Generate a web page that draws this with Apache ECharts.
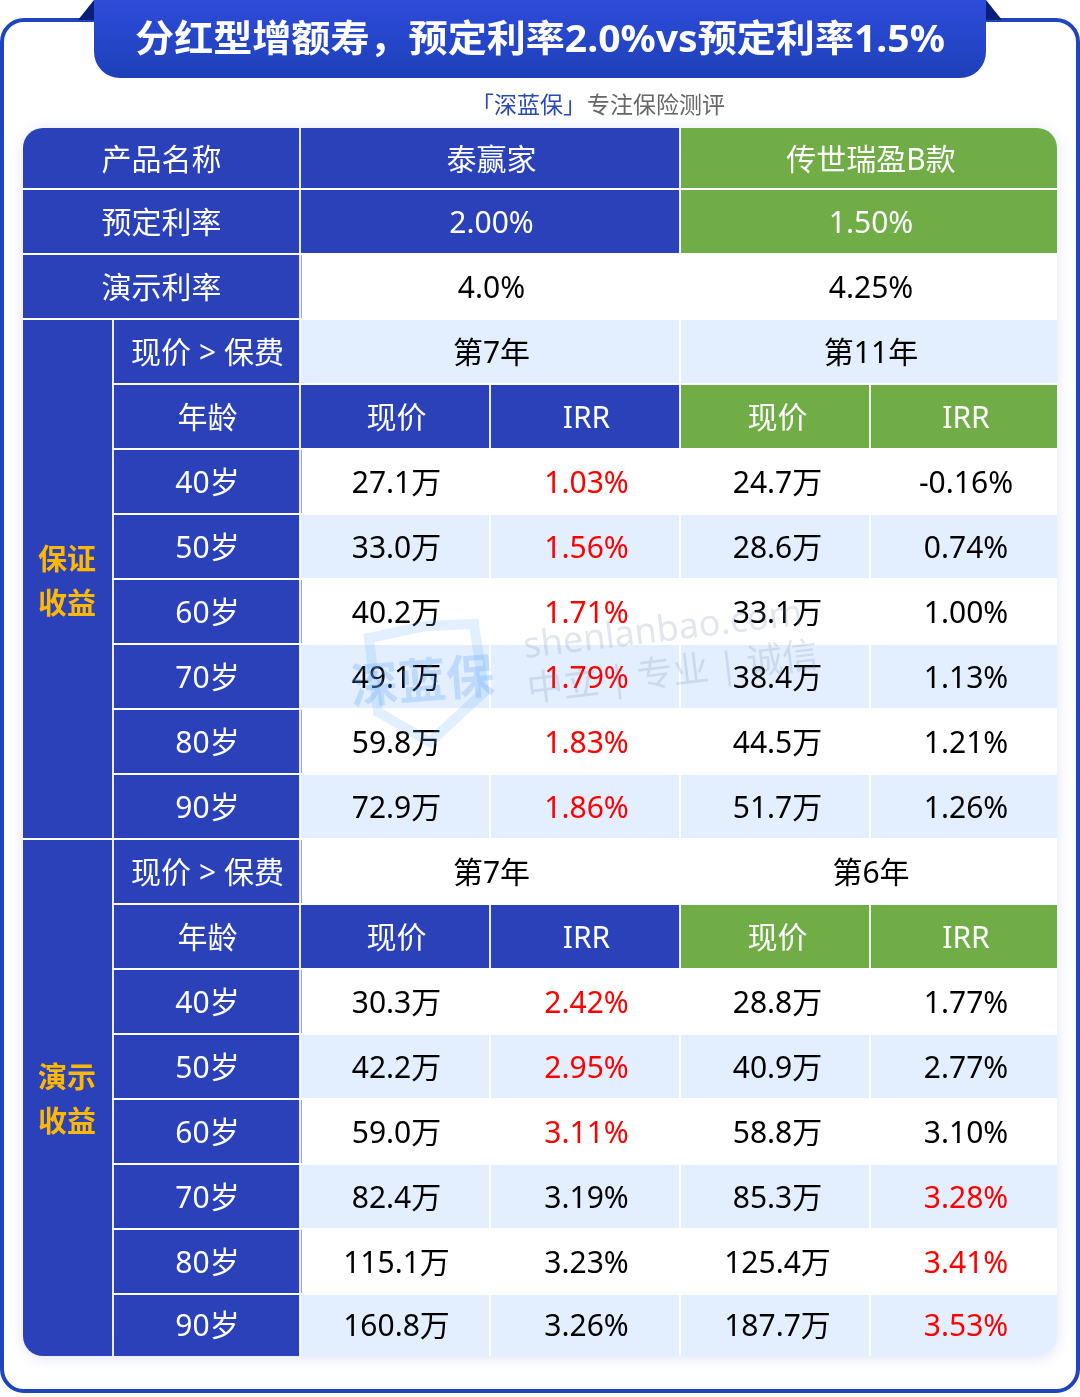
<!DOCTYPE html>
<html>
<head>
<meta charset="utf-8">
<style>
  html, body { margin: 0; padding: 0; background: #fff; }
  #main { width: 1080px; height: 1397px; }
</style>
<script src="https://cdn.jsdelivr.net/npm/echarts@6/dist/echarts.min.js"></script>
</head>
<body>
<div id="main"></div>
<script>
// ---- data ----
const titleText = '分红型增额寿，预定利率2.0%vs预定利率1.5%';
const productNames = ['泰赢家', '传世瑞盈B款'];
const presetRates = ['2.00%', '1.50%'];
const demoRates = ['4.0%', '4.25%'];
const ages = ['40岁', '50岁', '60岁', '70岁', '80岁', '90岁'];

const guaranteedYears = ['第7年', '第11年'];
const guaranteedCashA = [27.1, 33.0, 40.2, 49.1, 59.8, 72.9];
const guaranteedIrrA = [1.03, 1.56, 1.71, 1.79, 1.83, 1.86];
const guaranteedCashB = [24.7, 28.6, 33.1, 38.4, 44.5, 51.7];
const guaranteedIrrB = [-0.16, 0.74, 1.00, 1.13, 1.21, 1.26];

const demoYears = ['第7年', '第6年'];
const demoCashA = [30.3, 42.2, 59.0, 82.4, 115.1, 160.8];
const demoIrrA = [2.42, 2.95, 3.11, 3.19, 3.23, 3.26];
const demoCashB = [28.8, 40.9, 58.8, 85.3, 125.4, 187.7];
const demoIrrB = [1.77, 2.77, 3.10, 3.28, 3.41, 3.53];

// ---- table layout ----
const colEdges = [23, 113, 300, 490, 680, 870, 1057];
const rowEdges = [128, 189, 254, 319, 384, 449, 514, 579, 644, 709, 774, 839, 904, 969, 1034, 1099, 1164, 1229, 1294, 1356];

const BLUE = '#2a41b9', GREEN = '#70ad47', PALE = '#e3effe', WHITE = '#ffffff';
const FONT = '"Noto Sans", "Noto Sans CJK SC", sans-serif';

let cells = [];
function addCell(c0, c1, r0, r1, text, fill, color) {
  cells.push({ c0, c1, r0, r1, text, fill, color: color || '#000' });
}

function addHeaderRows(r, years, bg) {
  addCell(1, 2, r, r + 1, '现价 > 保费', BLUE, '#fff');
  addCell(2, 4, r, r + 1, years[0], bg);
  addCell(4, 6, r, r + 1, years[1], bg);
  addCell(1, 2, r + 1, r + 2, '年龄', BLUE, '#fff');
  addCell(2, 3, r + 1, r + 2, '现价', BLUE, '#fff');
  addCell(3, 4, r + 1, r + 2, 'IRR', BLUE, '#fff');
  addCell(4, 5, r + 1, r + 2, '现价', GREEN, '#fff');
  addCell(5, 6, r + 1, r + 2, 'IRR', GREEN, '#fff');
}

function addAgeRows(r, cashA, irrA, cashB, irrB) {
  ages.forEach((age, i) => {
    const row = r + i;
    const bg = i % 2 ? PALE : WHITE;
    addCell(1, 2, row, row + 1, age, BLUE, '#fff');
    addCell(2, 3, row, row + 1, cashA[i].toFixed(1) + '万', bg);
    addCell(3, 4, row, row + 1, irrA[i].toFixed(2) + '%', bg, irrA[i] > irrB[i] ? '#ff0000' : '#000');
    addCell(4, 5, row, row + 1, cashB[i].toFixed(1) + '万', bg);
    addCell(5, 6, row, row + 1, irrB[i].toFixed(2) + '%', bg, irrB[i] > irrA[i] ? '#ff0000' : '#000');
  });
}

addCell(0, 2, 0, 1, '产品名称', BLUE, '#fff');
addCell(2, 4, 0, 1, productNames[0], BLUE, '#fff');
addCell(4, 6, 0, 1, productNames[1], GREEN, '#fff');
addCell(0, 2, 1, 2, '预定利率', BLUE, '#fff');
addCell(2, 4, 1, 2, presetRates[0], BLUE, '#fff');
addCell(4, 6, 1, 2, presetRates[1], GREEN, '#fff');
addCell(0, 2, 2, 3, '演示利率', BLUE, '#fff');
addCell(2, 4, 2, 3, demoRates[0], WHITE);
addCell(4, 6, 2, 3, demoRates[1], WHITE);

addCell(0, 1, 3, 11, '保证\n收益', BLUE, '#ffb800');
addHeaderRows(3, guaranteedYears, PALE);
addAgeRows(5, guaranteedCashA, guaranteedIrrA, guaranteedCashB, guaranteedIrrB);

addCell(0, 1, 11, 19, '演示\n收益', BLUE, '#ffb800');
addHeaderRows(11, demoYears, WHITE);
addAgeRows(13, demoCashA, demoIrrA, demoCashB, demoIrrB);

const lastCol = colEdges.length - 1, lastRow = rowEdges.length - 1;

function renderCell(params, api) {
  const cell = cells[params.dataIndex];
  const p0 = api.coord([api.value(0), api.value(2)]);
  const p1 = api.coord([api.value(1), api.value(3)]);
  // leave a thin gap on inner edges, the white behind shows as the grid line
  const g = 0.9;
  const x0 = p0[0] + (cell.c0 > 0 ? g : 0);
  const x1 = p1[0] - (cell.c1 < lastCol ? g : 0);
  const y0 = p0[1] + (cell.r0 > 0 ? g : 0);
  const y1 = p1[1] - (cell.r1 < lastRow ? g : 0);
  const R = 20;
  const r = [
    cell.c0 === 0 && cell.r0 === 0 ? R : 0,
    cell.c1 === lastCol && cell.r0 === 0 ? R : 0,
    cell.c1 === lastCol && cell.r1 === lastRow ? R : 0,
    cell.c0 === 0 && cell.r1 === lastRow ? R : 0
  ];
  const isSection = cell.text.indexOf('\n') > 0;
  const children = [{
    type: 'rect',
    shape: { x: x0, y: y0, width: x1 - x0, height: y1 - y0, r: r },
    style: { fill: cell.fill }
  }];
  // the blue label column has a thin edge next to white rows
  if (cell.c0 === 2 && cell.fill === WHITE) {
    children.push({
      type: 'rect',
      shape: { x: x0, y: y0, width: 1, height: y1 - y0 },
      style: { fill: '#8e9ce0' }
    });
  }
  // small nudge, the right hand columns sit a bit off centre
  let nudge = 0;
  if (isSection) nudge = -1;
  else if (cell.c0 === 1) nudge = 1;
  else if (cell.c0 >= 4) nudge = 2.5;
  else if (cell.c0 >= 2) nudge = 1.5;
  children.push({
    type: 'text',
    style: {
      text: cell.text,
      x: (p0[0] + p1[0]) / 2 + nudge,
      y: (p0[1] + p1[1]) / 2 + (isSection ? 4.5 : 2.5),
      fill: cell.color,
      font: isSection ? 'bold 29px ' + FONT : '30px ' + FONT,
      lineHeight: 44,
      align: 'center',
      verticalAlign: 'middle'
    }
  });
  return { type: 'group', children: children };
}

const chart = echarts.init(document.getElementById('main'));
chart.setOption({
  animation: false,
  grid: { left: 0, right: 0, top: 0, bottom: 0 },
  xAxis: { type: 'value', min: 0, max: 1080, show: false },
  yAxis: { type: 'value', min: 0, max: 1397, inverse: true, show: false },
  graphic: { elements: [
    // outer frame
    { type: 'rect', z: 0, shape: { x: 2, y: 20, width: 1076, height: 1371, r: 22 },
      style: { fill: '#fff', stroke: '#1f45bd', lineWidth: 4 } },
    // table shadow
    { type: 'rect', z: 0, shape: { x: 23, y: 128, width: 1034, height: 1228, r: 20 },
      style: { fill: '#fff', shadowBlur: 14, shadowColor: 'rgba(60,80,200,0.16)', shadowOffsetY: 2 } },
    // ribbon
    { type: 'polygon', z: 1, shape: { points: [[78, 20], [94, 0], [94, 20]] }, style: { fill: '#0a1f78' } },
    { type: 'polygon', z: 1, shape: { points: [[1002, 20], [986, 0], [986, 20]] }, style: { fill: '#0a1f78' } },
    { type: 'rect', z: 1, shape: { x: 94, y: -30, width: 892, height: 108, r: 26 },
      style: { fill: new echarts.graphic.LinearGradient(0, 0, 0, 1, [
        { offset: 0.25, color: '#2f4cdc' }, { offset: 1, color: '#1d40b8' }
      ]) } },
    { type: 'text', z: 3, x: 540, y: 41, scaleX: 1.056,
      style: { text: titleText, fill: '#fff', font: 'bold 37px ' + FONT, align: 'center', verticalAlign: 'middle' } },
    { type: 'text', z: 3, style: { text: '「深蓝保」', x: 586, y: 106, fill: '#2a48b8',
      font: '23px ' + FONT, align: 'right', verticalAlign: 'middle' } },
    { type: 'text', z: 3, style: { text: '专注保险测评', x: 587, y: 106, fill: '#666',
      font: '23px ' + FONT, align: 'left', verticalAlign: 'middle' } },
    // watermark
    { type: 'polygon', z: 10,
      shape: { points: [[369, 638], [425, 626], [474, 624], [484, 692], [430, 742], [378, 712]] },
      style: { fill: 'none', stroke: 'rgba(110,175,250,0.2)', lineWidth: 10 } },
    { type: 'text', z: 10, x: 422, y: 680, rotation: 0.08,
      style: { text: '深蓝保', fill: 'rgba(90,165,250,0.28)', font: 'bold 48px "Noto Sans CJK SC"',
        align: 'center', verticalAlign: 'middle' } },
    { type: 'text', z: 10, x: 663, y: 631, rotation: 0.12,
      style: { text: 'shenlanbao.com', fill: 'rgba(110,130,175,0.2)', font: '36px ' + FONT,
        align: 'center', verticalAlign: 'middle' } },
    { type: 'text', z: 10, x: 673, y: 674, rotation: 0.12,
      style: { text: '中立 | 专业 | 诚信', fill: 'rgba(110,130,175,0.2)', font: '36px ' + FONT,
        align: 'center', verticalAlign: 'middle' } }
  ] },
  series: [{
    type: 'custom',
    coordinateSystem: 'cartesian2d',
    renderItem: renderCell,
    clip: false,
    silent: true,
    z: 5,
    encode: { x: [0, 1], y: [2, 3] },
    data: cells.map(c => [colEdges[c.c0], colEdges[c.c1], rowEdges[c.r0], rowEdges[c.r1]])
  }]
});
</script>
</body>
</html>
